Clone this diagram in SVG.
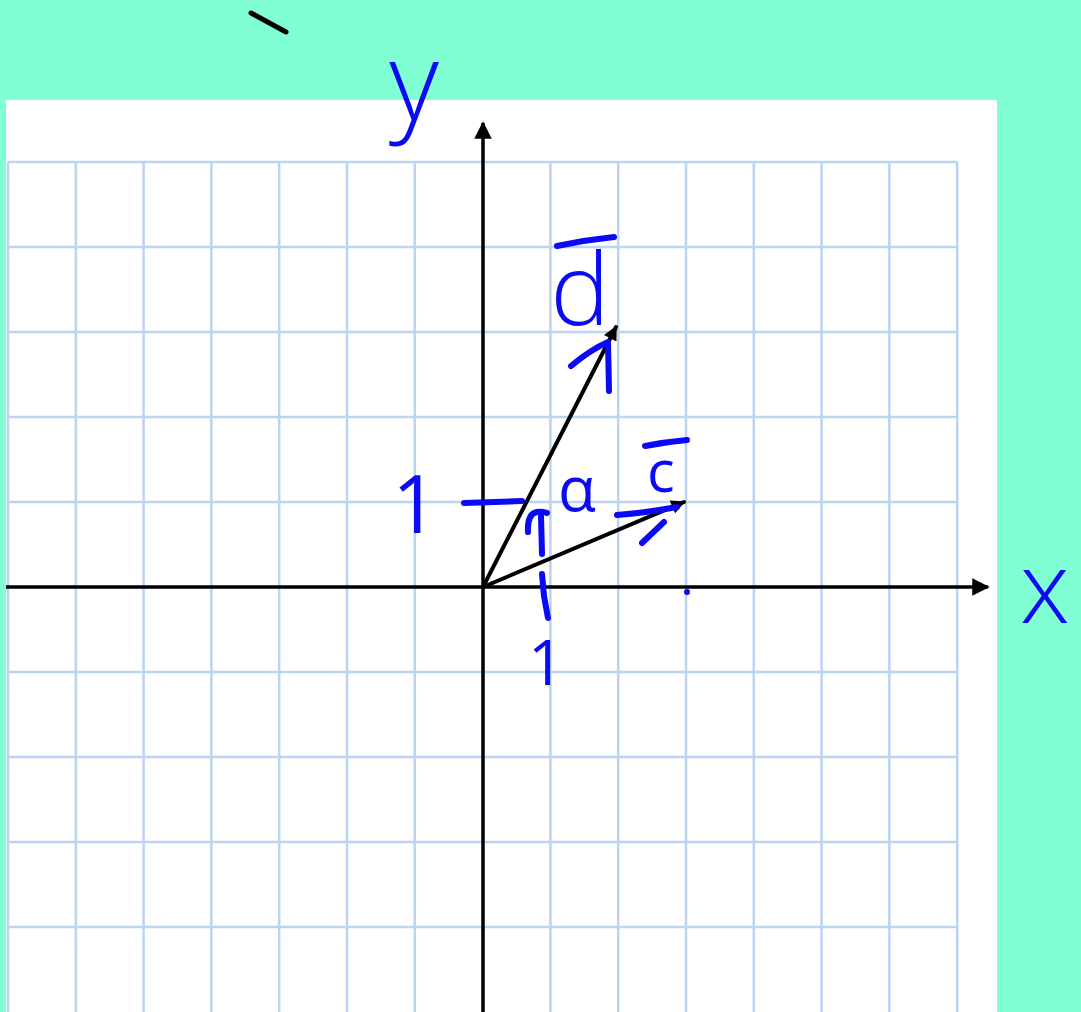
<svg xmlns="http://www.w3.org/2000/svg" width="1081" height="1012" viewBox="0 0 1081 1012">
<defs>
<style>
.grid{stroke:#bcd3f1;stroke-width:2.5;fill:none}
.axis{stroke:#000;stroke-width:3.5;fill:none}
.vec{stroke:#000;stroke-width:4;fill:none;stroke-linecap:round}
.ink{stroke:#0a0af5;stroke-width:6;fill:none;stroke-linecap:round;stroke-linejoin:round}
.lbl{fill:#0a0af5;font-family:"Open Sans","Liberation Sans",sans-serif;font-weight:300;text-anchor:middle}
.sm{font-weight:400}
</style>
<marker id="axhead" viewBox="0 0 10 10" refX="9" refY="5" markerWidth="6" markerHeight="5" orient="auto" markerUnits="strokeWidth">
<path d="M0,0 L10,5 L0,10 Z" fill="#000"/>
</marker>
<marker id="vhead" viewBox="0 0 10 10" refX="9" refY="5" markerWidth="4" markerHeight="3.5" orient="auto" markerUnits="strokeWidth">
<path d="M0,0 L10,5 L0,10 Z" fill="#000"/>
</marker>
</defs>
<rect x="0" y="0" width="1081" height="1012" fill="#80ffd4"/>
<rect x="6" y="100" width="991" height="912" fill="#fff"/>
<path d="M251,13 L286,32" stroke="#000" stroke-width="5" stroke-linecap="round"/>
<g id="grid" class="grid">
<path d="M8,162V1012M75.8,162V1012M143.6,162V1012M211.4,162V1012M279.2,162V1012M347,162V1012M414.8,162V1012M550.4,162V1012M618.2,162V1012M686,162V1012M753.8,162V1012M821.6,162V1012M889.4,162V1012M957.2,162V1012"/>
<path d="M8,162H957.2M8,247H957.2M8,332H957.2M8,417H957.2M8,502H957.2M8,672H957.2M8,757H957.2M8,842H957.2M8,927H957.2"/>
</g>
<g id="connectors">
<line id="x-axis" class="axis" x1="6" y1="587" x2="988" y2="587" marker-end="url(#axhead)"/>
<line id="y-axis" class="axis" x1="483" y1="1012" x2="483" y2="123" marker-end="url(#axhead)"/>
<line id="vec-d" class="vec" x1="483" y1="587" x2="616" y2="327" marker-end="url(#vhead)"/>
<line id="vec-c" class="vec" x1="483" y1="587" x2="684" y2="502" marker-end="url(#vhead)"/>
</g>
<g id="label-y"><text class="lbl" x="414" y="120" font-size="108">y</text></g>
<g id="label-x"><text class="lbl" x="1045" y="623" font-size="100">x</text></g>
<g id="label-d">
<text class="lbl" x="580" y="325" font-size="100">d</text>
<path class="ink" d="M557,246 Q585,240 614,237"/>
<path class="ink" d="M571,366 Q590,350 608,342 L609,391"/>
</g>
<g id="label-c">
<text class="lbl sm" x="661" y="492" font-size="58">c</text>
<path class="ink" d="M645,446 Q665,442 687,440"/>
<path class="ink" d="M617,515 Q645,513 677,507"/>
<path class="ink" d="M642,543 L664,522" stroke-width="8"/>
</g>
<g id="label-alpha"><text class="lbl sm" x="577" y="511" font-size="62">α</text>
<path class="ink" d="M528,532 Q527,514 537,512 Q543,511 547,513"/>
<path class="ink" d="M541,516 L542,554"/>
</g>
<g id="tick-y1">
<text class="lbl sm" x="415" y="533" font-size="80">1</text>
<path class="ink" d="M464,503 L522,501"/>
</g>
<g id="tick-x1">
<text class="lbl sm" x="546" y="685" font-size="63">1</text>
<path class="ink" d="M542,574 L544,596 L548,618"/>
</g>
<circle cx="687" cy="592" r="3" fill="#0a0af5"/>
</svg>
